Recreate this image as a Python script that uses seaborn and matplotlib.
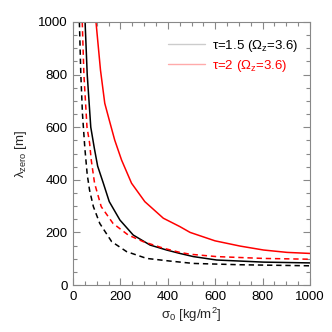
import pandas as pd
import matplotlib.pyplot as plt
import seaborn as sns
from matplotlib.lines import Line2D
from matplotlib.ticker import MultipleLocator

# Curves (sigma_0 in kg/m^2, lambda_zero in m)
# tau=1.5, solid black
sig_k_solid = [51, 60, 75, 90, 104, 128, 153, 198, 254, 325, 395, 451, 508, 606, 804, 1000]
lam_k_solid = [1000, 800, 600, 520, 452, 387, 317, 247, 190, 152, 133, 120, 108, 95, 87, 84]
# tau=1.5, dashed black
sig_k_dash = [27, 33, 40, 50, 60, 70, 86, 113, 163, 226, 311, 409, 508, 705, 1000]
lam_k_dash = [1000, 800, 650, 520, 420, 360, 298, 234, 165, 127, 101, 91, 82, 77, 73]
# tau=2, solid red
sig_r_solid = [97, 116, 134, 153, 176, 205, 247, 303, 381, 451, 494, 599, 705, 804, 903, 1000]
lam_r_solid = [1000, 817, 691, 627, 551, 475, 387, 317, 254, 222, 200, 168, 148, 133, 124, 120]
# tau=2, dashed red
sig_r_dash = [39, 46, 59, 70, 77, 91, 119, 169, 233, 296, 381, 451, 494, 606, 804, 1000]
lam_r_dash = [1000, 800, 600, 540, 475, 387, 298, 234, 190, 165, 140, 124, 117, 108, 101, 98]

legend_labels = [r'$\tau$=1.5 ($\Omega_z$=3.6)', r'$\tau$=2 ($\Omega_z$=3.6)']

frames = []
for name, s, l in [('k_solid', sig_k_solid, lam_k_solid), ('k_dash', sig_k_dash, lam_k_dash),
                   ('r_solid', sig_r_solid, lam_r_solid), ('r_dash', sig_r_dash, lam_r_dash)]:
    frames.append(pd.DataFrame({'sigma': s, 'lam': l, 'curve': name}))
df = pd.concat(frames, ignore_index=True)

sns.set_style('ticks')
plt.rcParams['font.family'] = ['Liberation Sans', 'DejaVu Sans']
plt.rcParams['mathtext.fontset'] = 'custom'
plt.rcParams['mathtext.rm'] = 'Liberation Sans'
plt.rcParams['mathtext.it'] = 'Liberation Sans'
plt.rcParams['mathtext.default'] = 'regular'

fs = 9.5
fig = plt.figure(figsize=(3.32, 3.32), dpi=100)
ax = fig.add_axes([73/332, 47/332, 237/332, 263/332])

palette = {'k_solid': 'black', 'k_dash': 'black', 'r_solid': 'red', 'r_dash': 'red'}
dashes = {'k_solid': '', 'k_dash': (3.5, 2.5), 'r_solid': '', 'r_dash': (3.5, 2.5)}
sns.lineplot(data=df, x='sigma', y='lam', hue='curve', style='curve', palette=palette,
             dashes=dashes, linewidth=1.1, legend=False, ax=ax, estimator=None, sort=False)

ax.set_xlim(0, 1000)
ax.set_ylim(0, 1000)
ax.xaxis.set_major_locator(MultipleLocator(200))
ax.xaxis.set_minor_locator(MultipleLocator(50))
ax.yaxis.set_major_locator(MultipleLocator(200))
ax.yaxis.set_minor_locator(MultipleLocator(50))
ax.tick_params(which='both', direction='in', top=True, right=True, color='#888888',
               labelsize=fs, labelcolor='black')
ax.tick_params(which='major', length=5, width=0.8, pad=4)
ax.tick_params(which='minor', length=3, width=0.8)
for sp in ax.spines.values():
    sp.set_color('#888888')
    sp.set_linewidth(0.8)

ax.set_xlabel(r'$\sigma_0$ [kg/m$^2$]', fontsize=fs, labelpad=2)
ax.set_ylabel(r'$\lambda_{zero}$ [m]', fontsize=fs, labelpad=6)

handles = [Line2D([], [], color='#cccccc', lw=1), Line2D([], [], color='#ffaaaa', lw=1)]
leg = ax.legend(handles, legend_labels, loc='upper left', bbox_to_anchor=(168/332, 1 - 38/332),
                bbox_transform=fig.transFigure, frameon=False, fontsize=fs, handlelength=2.8,
                handletextpad=0.5, borderpad=0, borderaxespad=0, labelspacing=0.3,
                labelcolor=['black', 'red'])

fig.savefig('out.png', dpi=100)
